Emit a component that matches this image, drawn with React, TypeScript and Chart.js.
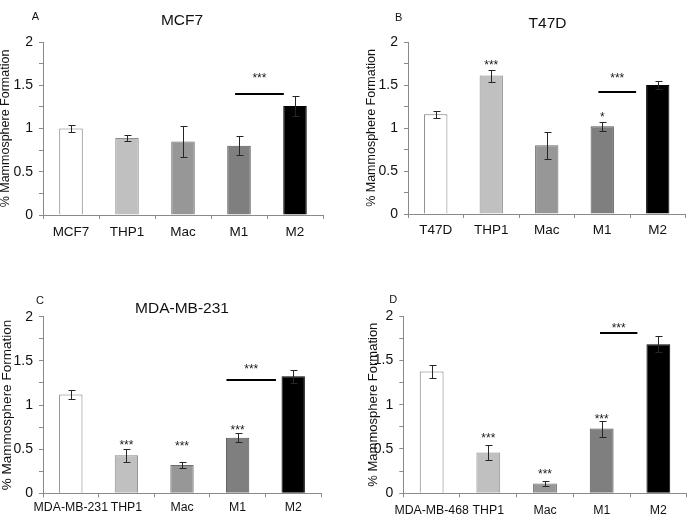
import React, { useEffect, useRef } from "react";
import { Chart, registerables } from "chart.js";

Chart.register(...registerables);
Chart.defaults.font.family = '"Liberation Sans", Arial, sans-serif';

// ---------- DATA ----------
const catsA = ["MCF7", "THP1", "Mac", "M1", "M2"];
const valsA = [1.0, 0.89, 0.85, 0.8, 1.26];
const errsA = [0.04, 0.04, 0.18, 0.11, 0.11];
const starsA = ["", "", "", "", ""];
const starYA = [0, 0, 0, 0, 0];
const sigA = [2.93, 3.8, 1.395, 1.618]; // from idx, to idx, line value, star value

const catsB = ["T47D", "THP1", "Mac", "M1", "M2"];
const valsB = [1.16, 1.61, 0.8, 1.02, 1.5];
const errsB = [0.04, 0.07, 0.155, 0.05, 0.045];
const starsB = ["", "***", "", "*", ""];
const starYB = [0, 1.77, 0, 1.16, 0];
const sigB = [2.93, 3.61, 1.42, 1.61];

const catsC = ["MDA-MB-231", "THP1", "Mac", "M1", "M2"];
const valsC = [1.12, 0.43, 0.32, 0.63, 1.325];
const errsC = [0.05, 0.07, 0.035, 0.05, 0.075];
const starsC = ["", "***", "***", "***", ""];
const starYC = [0, 0.58, 0.57, 0.75, 0];
const sigC = [2.8, 3.69, 1.28, 1.44];

const catsD = ["MDA-MB-468", "THP1", "Mac", "M1", "M2"];
const valsD = [1.375, 0.46, 0.11, 0.73, 1.68];
const errsD = [0.07, 0.09, 0.025, 0.09, 0.09];
const starsD = ["", "***", "***", "***", ""];
const starYD = [0, 0.66, 0.255, 0.87, 0];
const sigD = [2.97, 3.63, 1.81, 1.9];

const yTicksMin = 0;
const yTicksMax = 2;
const yTitle = "% Mammosphere Formation";

// ---------- STYLE / LAYOUT ----------
const barColors = ["#ffffff", "#c0c0c0", "#979797", "#7f7f7f", "#000000"];
const barBorders = ["#7a7a7a", "#8a8a8a", "#6a6a6a", "#555555", "#000000"];

type PanelDef = {
  letter: string;
  title: string;
  cats: string[];
  vals: number[];
  errs: number[];
  stars: string[];
  starY: number[];
  sig: number[];
  box: { x: number; y: number; w: number; h: number };
  area: { l: number; t: number; r: number; b: number };
  titlePos: { x: number; y: number } | null;
  letterPos: { x: number; y: number };
  yTitleX: number;
  yTitleSize: number;
  xPad: number;
  xFont: number;
};

const panels: PanelDef[] = [
  {
    letter: "A", title: "MCF7", cats: catsA, vals: valsA, errs: errsA, stars: starsA, starY: starYA, sig: sigA,
    box: { x: 0, y: 0, w: 345, h: 258 },
    area: { l: 43, t: 42, r: 323, b: 215 },
    titlePos: { x: 182, y: 20.5 }, letterPos: { x: 35.5, y: 17 },
    yTitleX: 5.2, yTitleSize: 12.5, xPad: 5.6, xFont: 13.5,
  },
  {
    letter: "B", title: "T47D", cats: catsB, vals: valsB, errs: errsB, stars: starsB, starY: starYB, sig: sigB,
    box: { x: 345, y: 0, w: 342, h: 258 },
    area: { l: 408, t: 42, r: 685.5, b: 214 },
    titlePos: { x: 547.5, y: 23.5 }, letterPos: { x: 398.7, y: 18 },
    yTitleX: 371.3, yTitleSize: 12.5, xPad: 3.8, xFont: 13.5,
  },
  {
    letter: "C", title: "MDA-MB-231", cats: catsC, vals: valsC, errs: errsC, stars: starsC, starY: starYC, sig: sigC,
    box: { x: 0, y: 258, w: 345, h: 259 },
    area: { l: 43, t: 316.7, r: 321, b: 493.3 },
    titlePos: { x: 182, y: 308.5 }, letterPos: { x: 40, y: 300.5 },
    yTitleX: 7, yTitleSize: 13.5, xPad: 3.2, xFont: 12.3,
  },
  {
    letter: "D", title: "", cats: catsD, vals: valsD, errs: errsD, stars: starsD, starY: starYD, sig: sigD,
    box: { x: 345, y: 258, w: 342, h: 259 },
    area: { l: 403.3, t: 316, r: 686.7, b: 493.3 },
    titlePos: null, letterPos: { x: 393.3, y: 300 },
    yTitleX: 373, yTitleSize: 13, xPad: 5.5, xFont: 12.3,
  },
];

function decorPlugin(p: PanelDef) {
  return {
    id: "decor" + p.letter,
    afterDatasetsDraw(chart: any) {
      const ctx: CanvasRenderingContext2D = chart.ctx;
      const xs = chart.scales.x;
      const ys = chart.scales.y;
      const meta = chart.getDatasetMeta(0);
      ctx.save();
      // error bars
      ctx.strokeStyle = "#262626";
      ctx.lineWidth = 1;
      meta.data.forEach((bar: any, i: number) => {
        const v = p.vals[i];
        const e = p.errs[i];
        const cx = Math.round(bar.x) + 0.5;
        const t = Math.round(ys.getPixelForValue(v + e)) + 0.5;
        const b = Math.round(ys.getPixelForValue(v - e)) + 0.5;
        ctx.beginPath();
        ctx.moveTo(cx, t);
        ctx.lineTo(cx, b);
        ctx.moveTo(cx - 3, t);
        ctx.lineTo(cx + 4, t);
        ctx.moveTo(cx - 3, b);
        ctx.lineTo(cx + 4, b);
        ctx.stroke();
      });
      // per-bar stars
      ctx.fillStyle = "#1a1a1a";
      ctx.font = '12px "Liberation Sans", Arial, sans-serif';
      ctx.textAlign = "center";
      ctx.textBaseline = "alphabetic";
      p.stars.forEach((s, i) => {
        if (!s) return;
        const bx = meta.data[i].x;
        const y = ys.getPixelForValue(p.starY[i]);
        ctx.fillText(s, bx, y + 6.9);
      });
      // significance line
      const x1 = xs.getPixelForValue(p.sig[0]);
      const x2 = xs.getPixelForValue(p.sig[1]);
      const yl = ys.getPixelForValue(p.sig[2]);
      ctx.strokeStyle = "#000";
      ctx.lineWidth = 2;
      ctx.beginPath();
      ctx.moveTo(x1, Math.round(yl));
      ctx.lineTo(x2, Math.round(yl));
      ctx.stroke();
      ctx.fillText("***", (x1 + x2) / 2, ys.getPixelForValue(p.sig[3]) + 6.9);
      // title
      ctx.fillStyle = "#111";
      ctx.textBaseline = "middle";
      if (p.titlePos && p.title) {
        ctx.font = '15.5px "Liberation Sans", Arial, sans-serif';
        ctx.fillText(p.title, p.titlePos.x - p.box.x, p.titlePos.y - p.box.y);
      }
      // panel letter
      ctx.font = '11px "Liberation Sans", Arial, sans-serif';
      ctx.fillText(p.letter, p.letterPos.x - p.box.x, p.letterPos.y - p.box.y);
      ctx.restore();
    },
  };
}

function Panel({ p }: { p: PanelDef }) {
  const ref = useRef<HTMLCanvasElement>(null);
  useEffect(() => {
    const canvas = ref.current!;
    const yWidth = p.area.l - p.box.x;
    const xHeight = p.box.y + p.box.h - p.area.b;
    const chart = new Chart(canvas, {
      type: "bar",
      data: {
        labels: p.cats,
        datasets: [
          {
            data: p.vals,
            backgroundColor: barColors,
            borderColor: barBorders,
            borderWidth: 1,
            barPercentage: 0.42,
            categoryPercentage: 1,
          },
        ],
      },
      options: {
        responsive: false,
        animation: false,
        devicePixelRatio: 1,
        layout: {
          padding: {
            left: 0,
            top: p.area.t - p.box.y,
            right: p.box.x + p.box.w - p.area.r,
            bottom: 0,
          },
        },
        plugins: { legend: { display: false }, tooltip: { enabled: false }, title: { display: false } },
        scales: {
          x: {
            offset: true,
            grid: { display: true, offset: true, drawOnChartArea: false, drawTicks: true, tickLength: 4, color: "#8a8a8a" },
            border: { display: true, color: "#8a8a8a", width: 1 },
            ticks: { color: "#111", font: { size: p.xFont }, padding: p.xPad, maxRotation: 0, autoSkip: false },
            afterFit: (s: any) => { s.height = xHeight; },
          },
          y: {
            min: yTicksMin,
            max: yTicksMax,
            grid: { display: true, drawOnChartArea: false, drawTicks: true, tickLength: 4, color: "#8a8a8a" },
            border: { display: true, color: "#8a8a8a", width: 1 },
            ticks: {
              stepSize: 0.25,
              autoSkip: false,
              color: "#111",
              font: { size: 14 },
              padding: 6,
              callback: (v: any) => (Math.abs(v * 2 - Math.round(v * 2)) < 1e-6 ? String(v) : ""),
            },
            title: {
              display: true,
              text: yTitle,
              color: "#111",
              font: { size: p.yTitleSize, lineHeight: 1 },
              padding: { top: p.yTitleX - p.box.x - p.yTitleSize / 2, bottom: 0 },
            },
            afterFit: (s: any) => { s.width = yWidth; },
          },
        },
      },
      plugins: [decorPlugin(p)],
    } as any);
    return () => chart.destroy();
  }, [p]);
  return (
    <canvas
      ref={ref}
      width={p.box.w}
      height={p.box.h}
      style={{ position: "absolute", left: p.box.x, top: p.box.y, width: p.box.w, height: p.box.h }}
    />
  );
}

export default function App() {
  return (
    <div style={{ position: "fixed", left: 0, top: 0, width: 687, height: 517, background: "#fff", overflow: "hidden" }}>
      {panels.map((p) => (
        <Panel key={p.letter} p={p} />
      ))}
    </div>
  );
}
